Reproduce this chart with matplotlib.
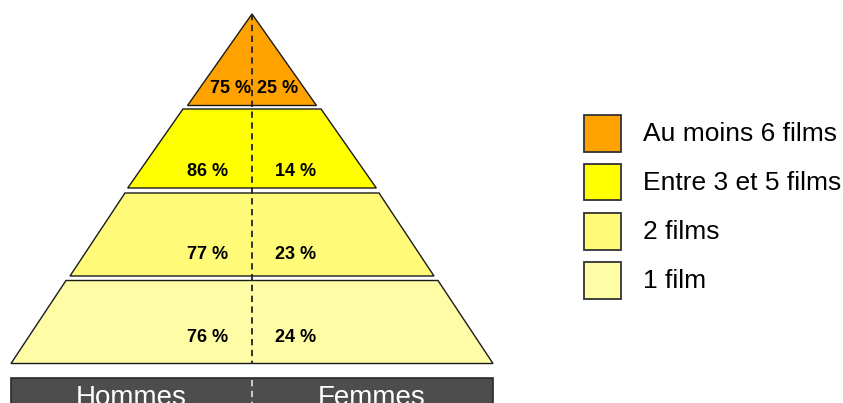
import matplotlib
matplotlib.use("Agg")
import matplotlib.pyplot as plt
from matplotlib.patches import Polygon, Rectangle

# ---- data ----
categories = ["Au moins 6 films", "Entre 3 et 5 films", "2 films", "1 film"]
hommes = [75, 86, 77, 76]
femmes = [25, 14, 23, 24]
group_labels = ["Hommes", "Femmes"]
colors = ["#FFA200", "#FFFF00", "#FFFA78", "#FFFCA6"]

# ---- layout (pixel space) ----
W, H = 843, 403
cx = 252
levels_y = [(14, 105.5), (109, 188), (193, 276), (280.5, 363.5)]
levels_hw = [(0, 64.5), (69, 124.3), (127, 182), (186, 241)]
label_y = [88.5, 171.5, 254.5, 337.5]

fig = plt.figure(figsize=(W / 100, H / 100), dpi=100)
ax = fig.add_axes([0, 0, 1, 1])
ax.set_xlim(0, W)
ax.set_ylim(H, 0)
ax.axis("off")

for i, ((y0, y1), (h0, h1)) in enumerate(zip(levels_y, levels_hw)):
    pts = [(cx - h0, y0), (cx + h0, y0), (cx + h1, y1), (cx - h1, y1)]
    ax.add_patch(Polygon(pts, closed=True, facecolor=colors[i],
                         edgecolor="#1a1a1a", linewidth=1.0, zorder=2))
    ty = label_y[i]
    if i == 0:
        xl, xr = cx - 1, cx + 5
    else:
        xl, xr = cx - 24, cx + 23
    ax.text(xl, ty, f"{hommes[i]} %", ha="right", va="center",
            fontsize=13, fontweight="bold", family="Liberation Sans",
            color="black", zorder=4)
    ax.text(xr, ty, f"{femmes[i]} %", ha="left", va="center",
            fontsize=13, fontweight="bold", family="Liberation Sans",
            color="black", zorder=4)

# central dashed line
ax.plot([cx, cx], [14, 363.5], color="#222222", linewidth=1.3,
        linestyle=(0, (3.5, 2.5)), zorder=3)

# bottom bar
ax.add_patch(Rectangle((10.5, 378), 482.5, 40, facecolor="#4D4D4D",
                       edgecolor="#2a2a2a", linewidth=1.2, zorder=2))
ax.plot([cx, cx], [380, 403], color="#d8d8d8", linewidth=1.3,
        linestyle=(0, (3.5, 2.5)), zorder=3)
ax.text(131.5, 405, group_labels[0], ha="center", va="baseline",
        fontsize=20, family="Liberation Sans", color="white", zorder=4)
ax.text(372, 405, group_labels[1], ha="center", va="baseline",
        fontsize=20, family="Liberation Sans", color="white", zorder=4)

# legend
box_y = [115, 163.5, 213, 262]
for i, cat in enumerate(categories):
    ax.add_patch(Rectangle((584, box_y[i]), 37, 36.5, facecolor=colors[i],
                           edgecolor="#333333", linewidth=1.3, zorder=2))
    ax.text(643, box_y[i] + 19, cat, ha="left", va="center",
            fontsize=19, family="Liberation Sans", color="black")

fig.savefig("out.png", dpi=100)
